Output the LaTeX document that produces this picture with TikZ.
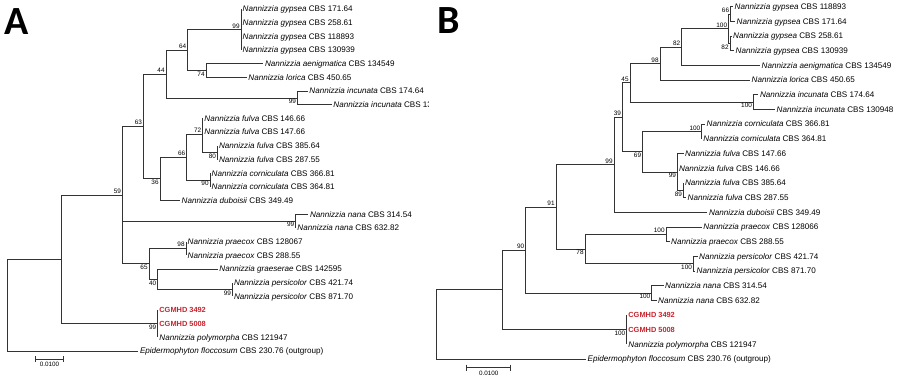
\documentclass[tikz,border=0pt]{standalone}
\usepackage{fontspec}
\setmainfont{Liberation Sans}
\newfontfamily\panelfont{Carlito}
\definecolor{cgmred}{RGB}{200,35,45}
\newcommand{\nan}[2]{\textit{Nannizzia #1} CBS #2}
\tikzset{
  br/.style={draw=black!80, line width=0.7pt},
  tip/.style={anchor=west, inner sep=1.5pt, text height=5.6pt, text depth=0pt, font=\fontsize{8.1}{9.7}\selectfont},
  cgm/.style={tip, text=cgmred, font=\fontsize{7.4}{9}\selectfont\bfseries},
  bsl/.style={inner sep=1.2pt, font=\fontsize{6.4}{7.5}\selectfont},
  bar/.style={inner sep=1pt, font=\fontsize{6.3}{7.5}\selectfont},
  panel/.style={inner sep=0pt, font=\panelfont\bfseries\fontsize{40}{40}\selectfont},
}
\begin{document}
\begin{tikzpicture}[x=1pt, y=-1pt]
\useasboundingbox (0,0) rectangle (900,380);
\node[panel] (pA) at (16.5,21.5) {A};
\node[panel] (pB) at (449,21) {B};

\begin{scope}
\clip (0,0) rectangle (428,380);
\coordinate (a99g) at (241,29.5);
\coordinate (a74) at (206,70.5);
\coordinate (a64) at (187.7,50);
\coordinate (a99i) at (297.3,98);
\coordinate (a44) at (166,74);
\coordinate (a80) at (217.3,152.6);
\coordinate (a72) at (202.7,134);
\coordinate (a90) at (210,180);
\coordinate (a66) at (186.7,157);
\coordinate (a36) at (160,178.5);
\coordinate (a63) at (143.3,126.3);
\coordinate (a99n) at (295.7,221);
\coordinate (a98) at (186,248.4);
\coordinate (a99p) at (232.3,289.5);
\coordinate (a40) at (157.7,279.2);
\coordinate (a65) at (149,263.8);
\coordinate (a59) at (122.3,195);
\coordinate (a99c) at (157.7,323.6);
\coordinate (a0) at (61.7,259.3);
\coordinate (aroot) at (7.3,305);
\node[tip] (ta0) at (241,9) {\nan{gypsea}{171.64}};
\node[tip] (ta1) at (241,22.7) {\nan{gypsea}{258.61}};
\node[tip] (ta2) at (241,36.4) {\nan{gypsea}{118893}};
\node[tip] (ta3) at (241,50) {\nan{gypsea}{130939}};
\node[tip] (ta4) at (263.3,63.7) {\nan{aenigmatica}{134549}};
\node[tip] (ta5) at (246.7,77.4) {\nan{lorica}{450.65}};
\node[tip] (ta6) at (307.7,91.1) {\nan{incunata}{174.64}};
\node[tip] (ta7) at (331.7,104.8) {\nan{incunata}{130948}};
\node[tip] (ta8) at (202.7,118.4) {\nan{fulva}{146.66}};
\node[tip] (ta9) at (202.7,132.1) {\nan{fulva}{147.66}};
\node[tip] (ta10) at (217.3,145.8) {\nan{fulva}{385.64}};
\node[tip] (ta11) at (217.3,159.5) {\nan{fulva}{287.55}};
\node[tip] (ta12) at (210,173.2) {\nan{corniculata}{366.81}};
\node[tip] (ta13) at (210,186.8) {\nan{corniculata}{364.81}};
\node[tip] (ta14) at (180,200.5) {\nan{duboisii}{349.49}};
\node[tip] (ta15) at (308.3,214.2) {\nan{nana}{314.54}};
\node[tip] (ta16) at (295.7,227.9) {\nan{nana}{632.82}};
\node[tip] (ta17) at (186,241.6) {\nan{praecox}{128067}};
\node[tip] (ta18) at (186,255.2) {\nan{praecox}{288.55}};
\node[tip] (ta19) at (217.7,268.9) {\nan{graeserae}{142595}};
\node[tip] (ta20) at (232.3,282.6) {\nan{persicolor}{421.74}};
\node[tip] (ta21) at (232.3,296.3) {\nan{persicolor}{871.70}};
\node[cgm] (ta22) at (157.7,310) {CGMHD 3492};
\node[cgm] (ta23) at (157.7,323.6) {CGMHD 5008};
\node[tip] (ta24) at (157.7,337.3) {\nan{polymorpha}{121947}};
\node[tip] (ta25) at (138.3,351) {\textit{Epidermophyton floccosum} CBS 230.76 (outgroup)};
\draw[br] (a99g) |- (ta0.west) (a99g) |- (ta1.west) (a99g) |- (ta2.west) (a99g) |- (ta3.west);
\draw[br] (a74) |- (ta4.west) (a74) |- (ta5.west);
\draw[br] (a64) |- (a99g) (a64) |- (a74);
\draw[br] (a99i) |- (ta6.west) (a99i) |- (ta7.west);
\draw[br] (a44) |- (a64) (a44) |- (a99i);
\draw[br] (a80) |- (ta10.west) (a80) |- (ta11.west);
\draw[br] (a72) |- (ta8.west) (a72) |- (ta9.west) (a72) |- (a80);
\draw[br] (a90) |- (ta12.west) (a90) |- (ta13.west);
\draw[br] (a66) |- (a72) (a66) |- (a90);
\draw[br] (a36) |- (a66) (a36) |- (ta14.west);
\draw[br] (a63) |- (a44) (a63) |- (a36);
\draw[br] (a99n) |- (ta15.west) (a99n) |- (ta16.west);
\draw[br] (a98) |- (ta17.west) (a98) |- (ta18.west);
\draw[br] (a99p) |- (ta20.west) (a99p) |- (ta21.west);
\draw[br] (a40) |- (ta19.west) (a40) |- (a99p);
\draw[br] (a65) |- (a98) (a65) |- (a40);
\draw[br] (a59) |- (a63) (a59) |- (a99n) (a59) |- (a65);
\draw[br] (a99c) |- (ta22.west) (a99c) |- (ta23.west) (a99c) |- (ta24.west);
\draw[br] (a0) |- (a59) (a0) |- (a99c);
\draw[br] (aroot) |- (a0) (aroot) |- (ta25.west);
\node[bsl, above left] (la99g) at (a99g) {99};
\node[bsl, above left] (la64) at (a64) {64};
\node[bsl, below left] (la74) at (a74) {74};
\node[bsl, above left] (la44) at (a44) {44};
\node[bsl, below left] (la99i) at (a99i) {99};
\node[bsl, above left] (la63) at (a63) {63};
\node[bsl, below left] (la36) at (a36) {36};
\node[bsl, above left] (la66) at (a66) {66};
\node[bsl, above left] (la72) at (a72) {72};
\node[bsl, below left] (la80) at (a80) {80};
\node[bsl, below left] (la90) at (a90) {90};
\node[bsl, above left] (la59) at (a59) {59};
\node[bsl, below left] (la99n) at (a99n) {99};
\node[bsl, below left] (la65) at (a65) {65};
\node[bsl, above left] (la98) at (a98) {98};
\node[bsl, below left] (la40) at (a40) {40};
\node[bsl, below left] (la99p) at (a99p) {99};
\node[bsl, below left] (la99c) at (a99c) {99};
\end{scope}
\coordinate (sa1) at (35.7,359);
\coordinate (sa2) at (63.3,359);
\draw[br] (sa1) -- (sa2) ([yshift=3pt]sa1) -- ([yshift=-3pt]sa1) ([yshift=3pt]sa2) -- ([yshift=-3pt]sa2);
\node[bar] (sla) at (49.5,364.5) {0.0100};

\coordinate (b66) at (730.5,14);
\coordinate (b82s) at (730,43.4);
\coordinate (b100g) at (728.5,28.7);
\coordinate (b82) at (681.7,47);
\coordinate (b98) at (660,63.5);
\coordinate (b100i) at (753.3,102.1);
\coordinate (b45) at (630,82.8);
\coordinate (b100c) at (701.7,131.5);
\coordinate (b89) at (683.3,190.2);
\coordinate (b99f) at (677.3,172);
\coordinate (b69) at (642.5,151.7);
\coordinate (b39) at (622.3,117.3);
\coordinate (b99) at (614,164.8);
\coordinate (b100p) at (666,234.3);
\coordinate (b100s) at (693.3,263.6);
\coordinate (b78) at (585,249);
\coordinate (b91) at (556,206.9);
\coordinate (b100n) at (651.7,293);
\coordinate (b90) at (525.7,250);
\coordinate (b100cg) at (626.7,329.7);
\coordinate (b0) at (502.7,289.8);
\coordinate (broot) at (436,324.4);
\node[tip] (tb0) at (733,6.7) {\nan{gypsea}{118893}};
\node[tip] (tb1) at (735,21.4) {\nan{gypsea}{171.64}};
\node[tip] (tb2) at (731.5,36.1) {\nan{gypsea}{258.61}};
\node[tip] (tb3) at (734,50.7) {\nan{gypsea}{130939}};
\node[tip] (tb4) at (760,65.4) {\nan{aenigmatica}{134549}};
\node[tip] (tb5) at (750,80.1) {\nan{lorica}{450.65}};
\node[tip] (tb6) at (758.3,94.8) {\nan{incunata}{174.64}};
\node[tip] (tb7) at (775,109.5) {\nan{incunata}{130948}};
\node[tip] (tb8) at (705,124.1) {\nan{corniculata}{366.81}};
\node[tip] (tb9) at (701.7,138.8) {\nan{corniculata}{364.81}};
\node[tip] (tb10) at (683.5,153.5) {\nan{fulva}{147.66}};
\node[tip] (tb11) at (677.3,168.2) {\nan{fulva}{146.66}};
\node[tip] (tb12) at (683.3,182.9) {\nan{fulva}{385.64}};
\node[tip] (tb13) at (686,197.5) {\nan{fulva}{287.55}};
\node[tip] (tb14) at (707.3,212.2) {\nan{duboisii}{349.49}};
\node[tip] (tb15) at (701.7,226.9) {\nan{praecox}{128066}};
\node[tip] (tb16) at (669.5,241.6) {\nan{praecox}{288.55}};
\node[tip] (tb17) at (697.5,256.3) {\nan{persicolor}{421.74}};
\node[tip] (tb18) at (695,270.9) {\nan{persicolor}{871.70}};
\node[tip] (tb19) at (663.5,285.6) {\nan{nana}{314.54}};
\node[tip] (tb20) at (656.5,300.3) {\nan{nana}{632.82}};
\node[cgm] (tb21) at (626.7,315) {CGMHD 3492};
\node[cgm] (tb22) at (626.7,329.7) {CGMHD 5008};
\node[tip] (tb23) at (626.7,344.3) {\nan{polymorpha}{121947}};
\node[tip] (tb24) at (586,359) {\textit{Epidermophyton floccosum} CBS 230.76 (outgroup)};
\draw[br] (b66) |- (tb0.west) (b66) |- (tb1.west);
\draw[br] (b82s) |- (tb2.west) (b82s) |- (tb3.west);
\draw[br] (b100g) |- (b66) (b100g) |- (b82s);
\draw[br] (b82) |- (b100g) (b82) |- (tb4.west);
\draw[br] (b98) |- (b82) (b98) |- (tb5.west);
\draw[br] (b100i) |- (tb6.west) (b100i) |- (tb7.west);
\draw[br] (b45) |- (b98) (b45) |- (b100i);
\draw[br] (b100c) |- (tb8.west) (b100c) |- (tb9.west);
\draw[br] (b89) |- (tb12.west) (b89) |- (tb13.west);
\draw[br] (b99f) |- (tb10.west) (b99f) |- (tb11.west) (b99f) |- (b89);
\draw[br] (b69) |- (b100c) (b69) |- (b99f);
\draw[br] (b39) |- (b45) (b39) |- (b69);
\draw[br] (b99) |- (b39) (b99) |- (tb14.west);
\draw[br] (b100p) |- (tb15.west) (b100p) |- (tb16.west);
\draw[br] (b100s) |- (tb17.west) (b100s) |- (tb18.west);
\draw[br] (b78) |- (b100p) (b78) |- (b100s);
\draw[br] (b91) |- (b99) (b91) |- (b78);
\draw[br] (b100n) |- (tb19.west) (b100n) |- (tb20.west);
\draw[br] (b90) |- (b91) (b90) |- (b100n);
\draw[br] (b100cg) |- (tb21.west) (b100cg) |- (tb22.west) (b100cg) |- (tb23.west);
\draw[br] (b0) |- (b90) (b0) |- (b100cg);
\draw[br] (broot) |- (b0) (broot) |- (tb24.west);
\node[bsl, above left] (lb66) at (b66) {66};
\node[bsl, above left] (lb100g) at (b100g) {100};
\node[bsl, below left] (lb82s) at (b82s) {82};
\node[bsl, above left] (lb82) at (b82) {82};
\node[bsl, above left] (lb98) at (b98) {98};
\node[bsl, above left] (lb45) at (b45) {45};
\node[bsl, below left] (lb100i) at (b100i) {100};
\node[bsl, above left] (lb39) at (b39) {39};
\node[bsl, above left] (lb100c) at (b100c) {100};
\node[bsl, below left] (lb69) at (b69) {69};
\node[bsl, below left] (lb99f) at (b99f) {99};
\node[bsl, below left] (lb89) at (b89) {89};
\node[bsl, above left] (lb99) at (b99) {99};
\node[bsl, above left] (lb91) at (b91) {91};
\node[bsl, above left] (lb100p) at (b100p) {100};
\node[bsl, below left] (lb78) at (b78) {78};
\node[bsl, below left] (lb100s) at (b100s) {100};
\node[bsl, above left] (lb90) at (b90) {90};
\node[bsl, below left] (lb100n) at (b100n) {100};
\node[bsl, below left] (lb100cg) at (b100cg) {100};
\coordinate (sb1) at (466.7,367.7);
\coordinate (sb2) at (510.7,367.7);
\draw[br] (sb1) -- (sb2) ([yshift=3pt]sb1) -- ([yshift=-3pt]sb1) ([yshift=3pt]sb2) -- ([yshift=-3pt]sb2);
\node[bar] (slb) at (488.7,373) {0.0100};
\end{tikzpicture}
\end{document}
